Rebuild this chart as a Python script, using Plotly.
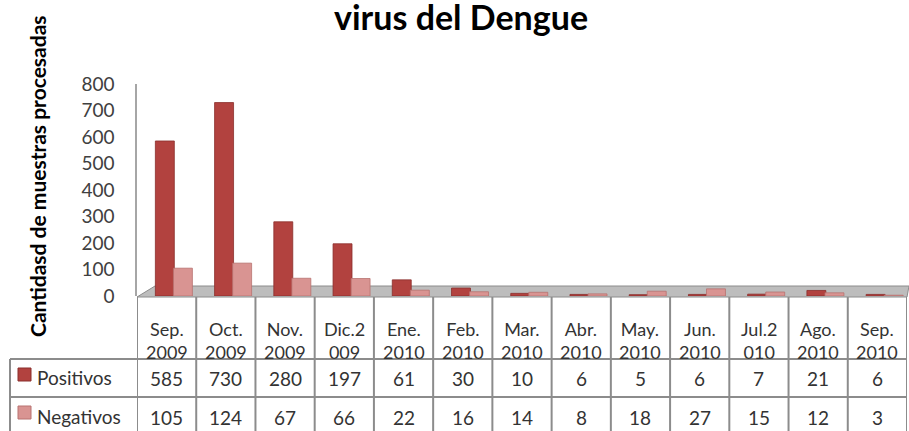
import plotly.graph_objects as go

# ---- data ----
categories = ["Sep. 2009", "Oct. 2009", "Nov. 2009", "Dic.2009", "Ene. 2010",
              "Feb. 2010", "Mar. 2010", "Abr. 2010", "May. 2010", "Jun. 2010",
              "Jul.2010", "Ago. 2010", "Sep. 2010"]
positivos = [585, 730, 280, 197, 61, 30, 10, 6, 5, 6, 7, 21, 6]
negativos = [105, 124, 67, 66, 22, 16, 14, 8, 18, 27, 15, 12, 3]
series_names = ["Positivos", "Negativos"]
y_ticks = [0, 100, 200, 300, 400, 500, 600, 700, 800]
title_text = "virus del Dengue"
ytitle_text = "Cantidasd de muestras procesadas"

# ---- layout geometry (pixels) ----
W, H = 909, 431
L, R, T, B = 137, 907, 84, 296
FONT = "Lato"
COL_POS = "#b2423f"
COL_NEG = "#d99492"
GRID = "#8c8c8c"
TXT = "#333333"


def px(xp):
    return (xp - L) / (R - L)


def py(yp):
    return (B - yp) / (B - T)


def wrap(label):
    return label[:5].strip() + "<br>" + label[5:].strip()


n = len(categories)
xs = list(range(n))

fig = go.Figure()
fig.add_trace(go.Bar(x=xs, y=positivos, name=series_names[0], width=0.32, offset=-0.19,
                     marker=dict(color=COL_POS, line=dict(color="#8a2e2c", width=0.8))))
fig.add_trace(go.Bar(x=xs, y=negativos, name=series_names[1], width=0.32, offset=0.115,
                     marker=dict(color=COL_NEG, line=dict(color="#b87270", width=0.8))))

shapes = []
# 3D floor strip
shapes.append(dict(type="path", xref="paper", yref="paper", layer="below",
                   path=f"M {px(137)} {py(297)} L {px(907)} {py(297)} L {px(909)} {py(286)} L {px(155)} {py(286)} Z",
                   fillcolor="#bdbdbd", line=dict(color=GRID, width=1)))
# table vertical lines
for i in range(n + 1):
    shapes.append(dict(type="line", xref="x", yref="paper", x0=i - 0.5, x1=i - 0.5,
                       y0=py(297), y1=py(431), line=dict(color=GRID, width=2)))
# table horizontal lines
for yy in (359, 397):
    shapes.append(dict(type="line", xref="paper", yref="paper", x0=px(10), x1=px(907),
                       y0=py(yy), y1=py(yy), line=dict(color=GRID, width=2)))
# left border of legend column
shapes.append(dict(type="line", xref="paper", yref="paper", x0=px(10), x1=px(10),
                   y0=py(359), y1=py(431), line=dict(color=GRID, width=2)))
# legend keys
for yc, col, lc in ((375, COL_POS, "#8a2e2c"), (413, COL_NEG, "#b87270")):
    shapes.append(dict(type="rect", xref="paper", yref="paper", x0=px(18), x1=px(31),
                       y0=py(yc + 6), y1=py(yc - 7), fillcolor=col, line=dict(color=lc, width=1)))

annotations = []
annotations.append(dict(text=f"<b>{title_text}</b>", xref="paper", yref="paper",
                        x=px(461), y=py(16), xanchor="center", yanchor="middle",
                        showarrow=False, font=dict(family=FONT, size=34, color="#000000")))
annotations.append(dict(text=f"<b>{ytitle_text}</b>", xref="paper", yref="paper",
                        x=px(37), y=py(176), xanchor="center", yanchor="middle", textangle=-90,
                        showarrow=False, font=dict(family=FONT, size=21, color="#000000")))
for i, c in enumerate(categories):
    annotations.append(dict(text=wrap(c), xref="x", yref="paper", x=i, y=py(340),
                            xanchor="center", yanchor="middle", showarrow=False,
                            font=dict(family=FONT, size=18, color=TXT)))
    annotations.append(dict(text=str(positivos[i]), xref="x", yref="paper", x=i, y=py(378),
                            xanchor="center", yanchor="middle", showarrow=False,
                            font=dict(family=FONT, size=19, color=TXT)))
    annotations.append(dict(text=str(negativos[i]), xref="x", yref="paper", x=i, y=py(417),
                            xanchor="center", yanchor="middle", showarrow=False,
                            font=dict(family=FONT, size=19, color=TXT)))
for name, yc in zip(series_names, (377, 416)):
    annotations.append(dict(text=name, xref="paper", yref="paper", x=px(35), y=py(yc),
                            xanchor="left", yanchor="middle", showarrow=False,
                            font=dict(family=FONT, size=19, color=TXT)))

fig.update_layout(
    width=W, height=H,
    margin=dict(l=L, r=W - R, t=T, b=H - B, pad=0),
    paper_bgcolor="white", plot_bgcolor="white",
    showlegend=False, barmode="overlay",
    xaxis=dict(range=[-0.5, n - 0.5], showticklabels=False, showgrid=False,
               zeroline=False, showline=False, ticks="", automargin=False),
    yaxis=dict(range=[0, 800], tickvals=y_ticks, showgrid=False, zeroline=False,
               showline=True, linecolor="#a6a6a6", linewidth=1.5, ticks="",
               ticklabelstandoff=17, automargin=False,
               tickfont=dict(family=FONT, size=19, color="#404040")),
    shapes=shapes, annotations=annotations,
    font=dict(family=FONT),
)

fig.write_html("out.html", config={"displayModeBar": False},
               post_script="document.body.style.margin='0';")
